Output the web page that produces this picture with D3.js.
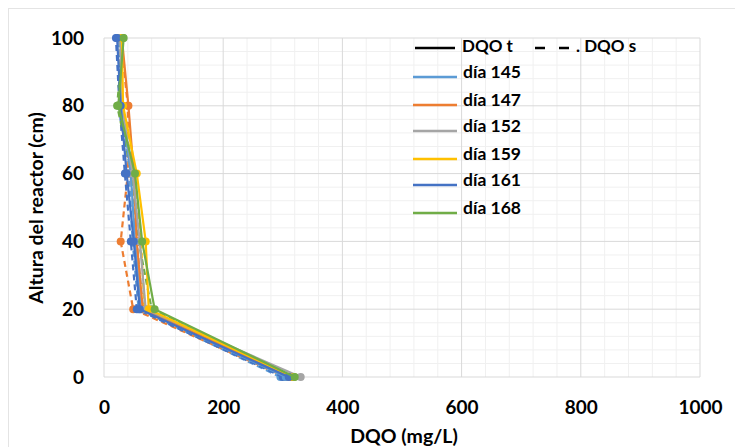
<!DOCTYPE html>
<html><head><meta charset="utf-8">
<script src="https://cdn.jsdelivr.net/npm/d3@7"></script>
<style>body{margin:0;background:#fff}svg{display:block}text{font-family:Lato,"Open Sans",sans-serif;font-weight:bold}</style>
</head><body><svg id="c" width="735" height="447"></svg>
<script>
const heights = [0, 20, 40, 60, 80, 100];
const days = ["día 145", "día 147", "día 152", "día 159", "día 161", "día 168"];
const colors = ["#5B9BD5", "#ED7D31", "#A5A5A5", "#FFC000", "#4472C4", "#70AD47"];
const dqoT = [
  [305, 62, 52, 45, 30, 28],
  [312, 65, 55, 50, 41, 30],
  [330, 70, 60, 48, 30, 28],
  [318, 75, 70, 55, 32, 30],
  [310, 60, 50, 38, 28, 22],
  [320, 85, 64, 52, 24, 33]
];
const dqoS = [
  [296, 58, 48, 42, 28, 25],
  [305, 49, 28, 40, 40, 28],
  [318, 66, 55, 44, 28, 26],
  [310, 68, 62, 50, 30, 28],
  [300, 55, 45, 35, 26, 20],
  [314, 80, 58, 47, 22, 32]
];
const xTicks = [0, 200, 400, 600, 800, 1000];
const yTicks = [0, 20, 40, 60, 80, 100];

const svg = d3.select("#c");
const x = d3.scaleLinear().domain([0, 1000]).range([104, 700]);
const y = d3.scaleLinear().domain([0, 100]).range([377, 38]);

svg.append("rect").attr("x", 8.5).attr("y", 8.5).attr("width", 740).attr("height", 450)
  .attr("fill", "none").attr("stroke", "#E4E4E4");

const g = svg.append("g");
g.selectAll(".mx").data(d3.range(0, 1001, 40).filter(v => v % 200)).join("line")
  .attr("x1", d => x(d)).attr("x2", d => x(d)).attr("y1", y(0)).attr("y2", y(100))
  .attr("stroke", "#F0F0F0");
g.selectAll(".my").data(d3.range(0, 101, 4).filter(v => v % 20)).join("line")
  .attr("y1", d => y(d)).attr("y2", d => y(d)).attr("x1", x(0)).attr("x2", x(1000))
  .attr("stroke", "#F0F0F0");
g.selectAll(".Mx").data(xTicks).join("line")
  .attr("x1", d => x(d)).attr("x2", d => x(d)).attr("y1", y(0)).attr("y2", y(100))
  .attr("stroke", "#D9D9D9");
g.selectAll(".My").data(yTicks).join("line")
  .attr("y1", d => y(d)).attr("y2", d => y(d)).attr("x1", x(0)).attr("x2", x(1000))
  .attr("stroke", "#D9D9D9");

const xa = svg.append("g").attr("transform", `translate(0,${y(0)})`)
  .call(d3.axisBottom(x).tickValues(xTicks).tickFormat(d3.format("d")).tickSize(0).tickPadding(24));
xa.select(".domain").remove();
xa.selectAll("text").attr("font-size", 19).attr("fill", "#000").style("font-family", "Lato,sans-serif").style("font-weight", "bold");
const ya = svg.append("g").attr("transform", `translate(${x(0)},0)`)
  .call(d3.axisLeft(y).tickValues(yTicks).tickFormat(d3.format("d")).tickSize(0).tickPadding(20));
ya.select(".domain").remove();
ya.selectAll("text").attr("font-size", 19).attr("fill", "#000").style("font-family", "Lato,sans-serif").style("font-weight", "bold");

svg.append("text").attr("x", 404).attr("y", 443).attr("text-anchor", "middle")
  .attr("font-size", 19.5).text("DQO (mg/L)");
svg.append("text").attr("transform", "translate(43,208) rotate(-90)").attr("text-anchor", "middle")
  .attr("font-size", 19.5).text("Altura del reactor (cm)");

const line = d3.line().x(d => x(d[0])).y(d => y(d[1]));
days.forEach((d, i) => {
  const ptsS = dqoS[i].map((v, k) => [v, heights[k]]);
  const gs = svg.append("g");
  gs.append("path").attr("d", line(ptsS)).attr("fill", "none").attr("stroke", colors[i])
    .attr("stroke-width", 2.2).attr("stroke-dasharray", "6,4");
  gs.selectAll("circle").data(ptsS).join("circle").attr("cx", p => x(p[0])).attr("cy", p => y(p[1]))
    .attr("r", 4).attr("fill", colors[i]);
});
days.forEach((d, i) => {
  const ptsT = dqoT[i].map((v, k) => [v, heights[k]]);
  const gt = svg.append("g");
  gt.append("path").attr("d", line(ptsT)).attr("fill", "none").attr("stroke", colors[i])
    .attr("stroke-width", 2.2);
  gt.selectAll("circle").data(ptsT).join("circle").attr("cx", p => x(p[0])).attr("cy", p => y(p[1]))
    .attr("r", 4).attr("fill", colors[i]);
});

const lg = svg.append("g");
lg.append("line").attr("x1", 415).attr("x2", 455).attr("y1", 48).attr("y2", 48).attr("stroke", "#000").attr("stroke-width", 2.5);
lg.append("text").attr("x", 462).attr("y", 52).attr("font-size", 17).text("DQO t");
lg.append("line").attr("x1", 535).attr("x2", 569).attr("y1", 48).attr("y2", 48).attr("stroke", "#000").attr("stroke-width", 2.5).attr("stroke-dasharray", "10,14");
lg.append("text").attr("x", 576).attr("y", 52).attr("font-size", 17).text(". DQO s");
const ly = [77, 105, 131, 159, 185, 213];
days.forEach((d, i) => {
  lg.append("line").attr("x1", 413).attr("x2", 457).attr("y1", ly[i]).attr("y2", ly[i])
    .attr("stroke", colors[i]).attr("stroke-width", 2.5);
  lg.append("text").attr("x", 463).attr("y", ly[i] + 1).attr("font-size", 17.5).text(d);
});
</script></body></html>
